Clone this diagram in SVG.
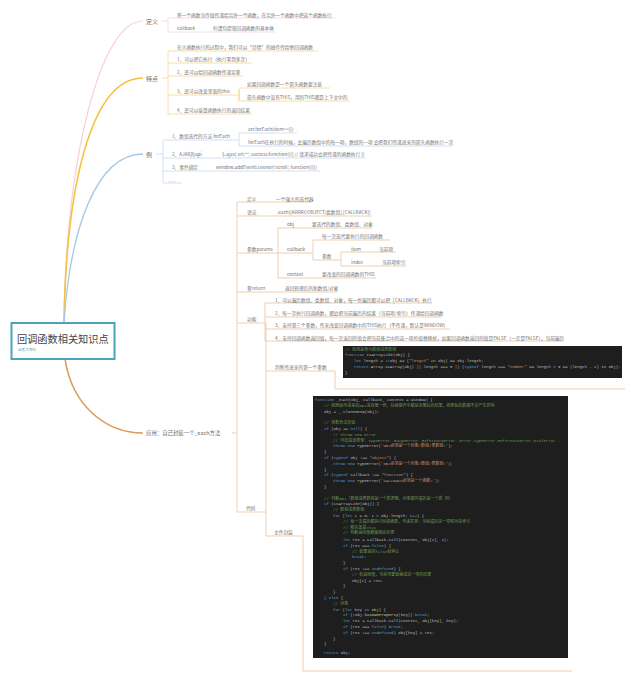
<svg xmlns="http://www.w3.org/2000/svg" width="640" height="686" viewBox="0 0 640 686">
<style>
text{font-family:"Noto Sans CJK SC","Liberation Sans",sans-serif;font-size:4.7px;fill:#737373}
.b{font-size:6px;fill:#6a6a6a}
.l{fill:none;stroke-width:.8;stroke-linejoin:round}
.pk{stroke:#f6d3da}.yl{stroke:#f8d58f}.bl{stroke:#c5d8f0}.br{stroke:#ecc3a0}
.c text,.c{font-family:"Liberation Mono","Noto Sans CJK SC",monospace;font-size:4px;fill:#bdbdbd}
.c .k{fill:#5b9bd0}.c .g{fill:#6a9a50}.c .s{fill:#c89070}.c .y{fill:#d6cf98}
</style>
<rect width="640" height="686" fill="#fff"/>
<g id="connectors">
<path d="M64 323C66 160 100 21 143 21" fill="none" stroke="#f6cfd6" stroke-width="1.2"/>
<path d="M64 323C66 190 90 78 143 78" fill="none" stroke="#f5c23e" stroke-width="1.6"/>
<path d="M64 323C70 230 96 154 143 154" fill="none" stroke="#a5c8ea" stroke-width="1.3"/>
<path d="M65 359C72 405 105 433 143 433" fill="none" stroke="#dd9a5a" stroke-width="1.6"/>
<path class="l pk" d="M162 21H168M168 32V18H335M168 32H275"/>
<path class="l yl" d="M162 78H168M168 114V51H318M168 63H252M168 76H243M168 95H239M168 114H252M239 101V89M239 88H330M239 89V101H350"/>
<path class="l bl" d="M156 154H163M163 183V140H239M163 158H366M163 171H320M163 183H182M239 146V133H297M239 146H452"/>
<path class="l br" d="M232 433H237M237 512V202H312M237 216H372M237 253H313M278 228V278H376M278 228H372M313 260V240H390M313 260H341M341 266V252H396M341 266H406M237 292H338M237 323H265M265 341V303H432M265 317H442M265 329H450M265 341H563M237 512H266M266 536V323M266 371H335V389H625M266 536H303V671H572"/>
</g>
<g id="root"><rect x="11.500" y="323" width="103" height="36" fill="#fff" stroke="#4aa3b8" stroke-width="2"/><text x="17" y="342.500" style="font-size:10.200px;fill:#444">回调函数相关知识点</text><text x="18" y="351" style="font-size:3.600px;fill:#5a9aa8">金质大百科</text></g>
<g id="n-def"><text class="b" x="146" y="24">定义</text><text x="177" y="17">将一个函数当作值传递给另外一个函数，在另外一个函数中把这个函数执行</text><text x="177" y="30">callback</text><text x="213" y="30">何谓包提现回调函数的基本体</text></g>
<g id="n-feat"><text class="b" x="146" y="81">特点</text><text x="177" y="49">在大函数执行的过程中，我们可以“尽情”的操作传给他回调函数</text><text x="177" y="61">1、可以把它执行（执行零到多次）</text><text x="177" y="74">2、还可以给回调函数传递实参</text><text x="177" y="93">3、还可以改变里面的this</text><text x="247" y="86">如果回调函数是一个箭头函数要注意</text><text x="247" y="99">箭头函数中没有THIS，用的THIS都是上下文中的</text><text x="177" y="112">4、还可以接受函数执行的返回结果</text></g>
<g id="n-ex"><text class="b" x="146" y="156.500">例</text><text x="172" y="138">1、数组迭代的方法 forEach</text><text x="248" y="131">arr.forEach(item=>{})</text><text x="248" y="144">forEach在执行的时候，会遍历数组中的每一项，数组的一项 会把我们传递进来的箭头函数执行一次</text><text x="172" y="156">2、AJAX的api</text><text x="222" y="156">$.ajax( url:"", success:function(){} // 请求成功会把传递的函数执行 })</text><text x="172" y="169">3、事件绑定</text><text x="216" y="169">window.addEventListener('scroll', function(){})</text><text x="168" y="182" style="fill:#bbb">......</text></g>
<g id="n-app"><text class="b" style="font-size:5.400px" x="146" y="435">应用：自己封装一个_each方法</text></g>
<g id="n-each"><text x="247" y="201">定义</text><text x="276" y="201">一个强大的迭代器</text><text x="247" y="214">语法</text><text x="277" y="214">.each([ARRAY/OBJECT/类数组],[CALLBACK])</text>
<text x="247" y="251">参数params</text><text x="287" y="226">obj</text><text x="312" y="226">要迭代的数组、类数组、对象</text><text x="287" y="251">callback</text><text x="322" y="238">每一次迭代要执行的回调函数</text><text x="322" y="258">参数</text><text x="351" y="251">item</text><text x="379" y="251">当前项</text><text x="351" y="264">index</text><text x="382" y="264">当前项索引</text><text x="287" y="276">context</text><text x="322" y="276">要改变的回调函数的THIS</text>
<text x="247" y="290">参return</text><text x="285" y="290">返回处理后的新数组/对象</text>
<text x="247" y="321">功能</text><text x="275" y="301.500">1、可以遍历数组、类数组、对象，每一也遍历都可以把［CALLBACK］执行</text><text x="275" y="315">2、每一次执行回调函数，都会把当前遍历的结果（当前项/索引）传递给回调函数</text><text x="275" y="327">3、支持第三个参数，传来改变回调函数中的THIS执行（不传递，默认是WINDOW）</text><text x="275" y="339.500">4、支持回调函数返回值，每一次返回的值会把当前集合中的这一项的值替换掉，如果回调函数返回的值是FALSE（一定是FALSE），当前遍历</text>
<text x="275" y="369">判断传进来的第一个参数</text><text x="246" y="510">代码</text><text x="274" y="534">文件封装</text></g>
<g id="code-1"><rect x="343" y="346" width="279" height="32" fill="#1e1e1e"/><text class="c"><tspan class="g" x="345" y="350.500">// 检测是否为数组或类数组</tspan><tspan x="345" y="356.300"><tspan class="k">function</tspan> isArrayLike(obj) {</tspan><tspan x="354" y="362.100"><tspan class="k">let</tspan> length = !!obj &amp;&amp; (<tspan class="s">"length"</tspan> in obj) &amp;&amp; obj.length;</tspan><tspan x="354" y="367.900"><tspan class="k">return</tspan> Array.isArray(obj) || length === 0 || (<tspan class="k">typeof</tspan> length === <tspan class="s">"number"</tspan> &amp;&amp; length &gt; 0 &amp;&amp; (length - 1) in obj);</tspan><tspan x="345" y="373.700">}</tspan></text></g>
<g id="code-2"><rect x="313" y="396" width="255" height="262" fill="#1e1e1e"/><text class="c">
<tspan x="315" y="401"><tspan class="k">function</tspan> _each(obj, callback, context = window) {</tspan>
<tspan class="g" x="324" y="406.800">// 把原始传进来的OBJ深克隆一份，后续操作中都是克隆后的结果，把原始的数据不会产生影响</tspan>
<tspan x="324" y="412.600">obj = _.cloneDeep(obj);</tspan>
<tspan class="g" x="324" y="424.200">// 参数合法校验</tspan>
<tspan x="324" y="430"><tspan class="k">if</tspan> (obj == <tspan class="k">null</tspan>) {</tspan>
<tspan class="g" x="333" y="435.800">// throw new Error</tspan>
<tspan class="g" x="333" y="441.600">// 可选错误类型：TypeError、RangeError、ReferenceError、Error-TypeError-ReferenceError-EvalError...</tspan>
<tspan x="333" y="447.400"><tspan class="k">throw new</tspan> TypeError(<tspan class="s">'OBJ必须是一个对象/数组/类数组!'</tspan>);</tspan>
<tspan x="324" y="453.200">}</tspan>
<tspan x="324" y="459"><tspan class="k">if</tspan> (<tspan class="k">typeof</tspan> obj !== <tspan class="s">"object"</tspan>) {</tspan>
<tspan x="333" y="464.800"><tspan class="k">throw new</tspan> TypeError(<tspan class="s">'OBJ必须是一个对象/数组/类数组!'</tspan>);</tspan>
<tspan x="324" y="470.600">}</tspan>
<tspan x="324" y="476.400"><tspan class="k">if</tspan> (<tspan class="k">typeof</tspan> callback !== <tspan class="s">"function"</tspan>) {</tspan>
<tspan x="333" y="482.200"><tspan class="k">throw new</tspan> TypeError(<tspan class="s">'CALLBACK必须是一个函数!'</tspan>);</tspan>
<tspan x="324" y="488">}</tspan>
<tspan class="g" x="324" y="499.600">// 判断OBJ（数组或类数组是一个新逻辑，对象循环遍历是一个新 列）</tspan>
<tspan x="324" y="505.400"><tspan class="k">if</tspan> (isArrayLike(obj)) {</tspan>
<tspan class="g" x="333" y="511.200">// 数组或类数组</tspan>
<tspan x="333" y="517"><tspan class="k">for</tspan> (<tspan class="k">let</tspan> i = 0; i &lt; obj.length; i++) {</tspan>
<tspan class="g" x="343" y="522.800">// 每一次遍历都执行回调函数，传递实参：当前遍历这一项和对应索引</tspan>
<tspan class="g" x="343" y="528.600">// 都会改变this</tspan>
<tspan class="g" x="343" y="534.400">// 判断返回值都做相应处理</tspan>
<tspan x="343" y="541"><tspan class="k">let</tspan> res = callback.call(context, obj[i], i);</tspan>
<tspan x="343" y="546.800"><tspan class="k">if</tspan> (res === <tspan class="k">false</tspan>) {</tspan>
<tspan class="g" x="352" y="552.600">// 如果返回false就停止</tspan>
<tspan x="352" y="558.400"><tspan class="k">break</tspan>;</tspan>
<tspan x="343" y="564.200">}</tspan>
<tspan x="343" y="570"><tspan class="k">if</tspan> (res !== <tspan class="k">undefined</tspan>) {</tspan>
<tspan class="g" x="352" y="575.800">// 有返回值，当前项要替换成这一项的结果</tspan>
<tspan x="352" y="581.600">obj[i] = res;</tspan>
<tspan x="343" y="587.400">}</tspan>
<tspan x="333" y="593.200">}</tspan>
<tspan x="324" y="599"><tspan class="k">} else</tspan> {</tspan>
<tspan class="g" x="333" y="604.800">// 对象</tspan>
<tspan x="333" y="610.600"><tspan class="k">for</tspan> (<tspan class="k">let</tspan> key <tspan class="k">in</tspan> obj) {</tspan>
<tspan x="343" y="616.400"><tspan class="k">if</tspan> (!obj.<tspan class="y">hasOwnProperty</tspan>(key)) <tspan class="k">break</tspan>;</tspan>
<tspan x="343" y="622.200"><tspan class="k">let</tspan> res = callback.call(context, obj[key], key);</tspan>
<tspan x="343" y="628"><tspan class="k">if</tspan> (res === <tspan class="k">false</tspan>) <tspan class="k">break</tspan>;</tspan>
<tspan x="343" y="633.800"><tspan class="k">if</tspan> (res !== <tspan class="k">undefined</tspan>) obj[key] = res;</tspan>
<tspan x="333" y="639.600">}</tspan>
<tspan x="324" y="645.400">}</tspan>
<tspan x="324" y="654"><tspan class="k">return</tspan> obj;</tspan>
</text></g>
</svg>
